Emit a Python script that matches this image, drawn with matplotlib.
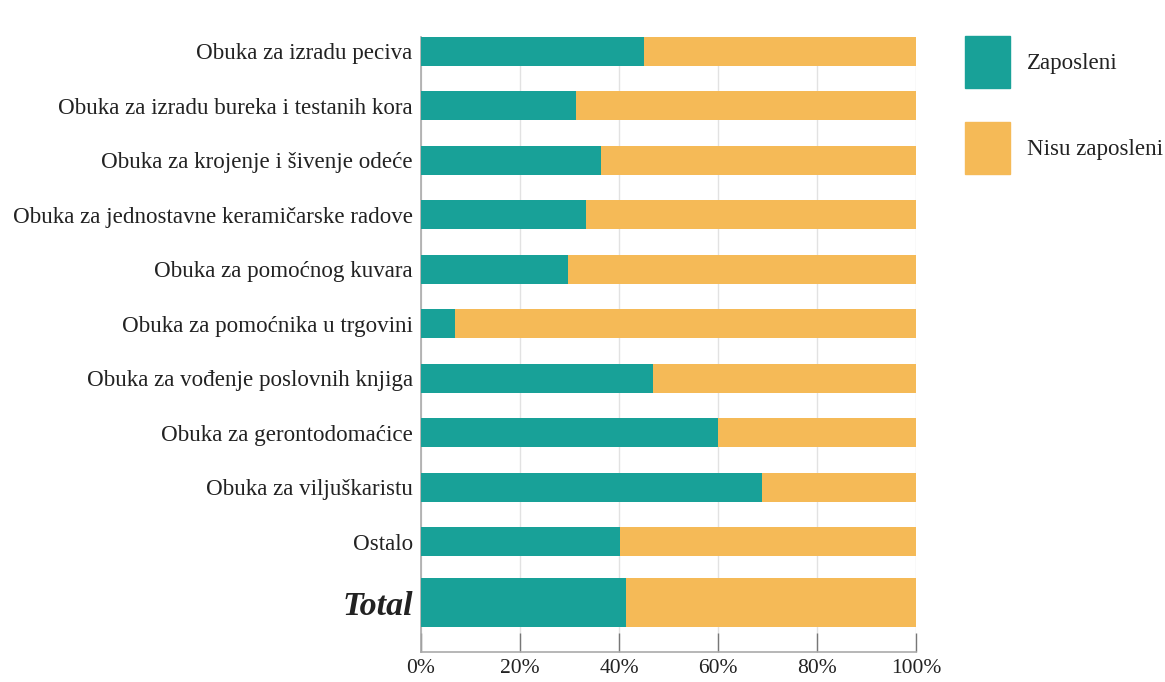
import numpy as np
import matplotlib.pyplot as plt
from matplotlib.patches import Patch

categories = [
    'Obuka za izradu peciva',
    'Obuka za izradu bureka i testanih kora',
    'Obuka za krojenje i šivenje odeće',
    'Obuka za jednostavne keramičarske radove',
    'Obuka za pomoćnog kuvara',
    'Obuka za pomoćnika u trgovini',
    'Obuka za vođenje poslovnih knjiga',
    'Obuka za gerontodomaćice',
    'Obuka za viljuškaristu',
    'Ostalo',
    'Total',
]
zaposleni = [45.0, 31.3, 36.4, 33.3, 29.7, 6.9, 46.9, 60.0, 68.9, 40.2, 41.4]
nisu_zaposleni = [100 - v for v in zaposleni]
series_names = ['Zaposleni', 'Nisu zaposleni']
x_ticks = [0, 20, 40, 60, 80, 100]

teal = '#18a198'
orange = '#f5ba57'
txt = '#222222'
fs = 16.6

plt.rcParams['font.family'] = ['Liberation Serif', 'DejaVu Serif']

fig = plt.figure(figsize=(11.65, 6.82), dpi=100)
ax = fig.add_axes([421 / 1165, 1 - 652 / 682, 495 / 1165, 615 / 682])

# positions: regular rows 1 apart, Total a bit further down and thicker
ypos = np.arange(len(categories), dtype=float)
ypos[-1] += 0.12
heights = np.full(len(categories), 0.53)
heights[-1] = 0.9

ax.barh(ypos, zaposleni, height=heights, color=teal, zorder=3)
ax.barh(ypos, nisu_zaposleni, left=zaposleni, height=heights, color=orange, zorder=3)

ax.set_xlim(0, 100)
ax.set_ylim(11.02, -0.26)
ax.set_xticks(x_ticks)
ax.set_xticklabels([f'{t}%' for t in x_ticks], fontsize=15.5, color=txt)
ax.set_yticks(ypos)
ax.set_yticklabels(categories, fontsize=fs, color=txt)
ax.get_yticklabels()[-1].set_fontsize(24.5)
ax.get_yticklabels()[-1].set_fontweight('bold')
ax.get_yticklabels()[-1].set_fontstyle('italic')
ax.tick_params(axis='y', length=0, pad=6)
ax.tick_params(axis='x', direction='in', length=14, width=1, color='#777777', pad=5)

ax.grid(axis='x', color='#e2e2e2', linewidth=1, zorder=0)
for s in ['top', 'right']:
    ax.spines[s].set_visible(False)
for s in ['left', 'bottom']:
    ax.spines[s].set_color('#aaaaaa')
    ax.spines[s].set_linewidth(1.2)

handles = [Patch(color=teal), Patch(color=orange)]
fig.legend(handles, series_names, loc='upper left',
           bbox_to_anchor=(965 / 1165, 1 - 36 / 682), frameon=False,
           fontsize=fs, handlelength=1.95, handleheight=3.09,
           labelspacing=1.47, handletextpad=0.74, borderpad=0, borderaxespad=0,
           labelcolor=txt)

fig.savefig('out.png', dpi=100, facecolor='white')
